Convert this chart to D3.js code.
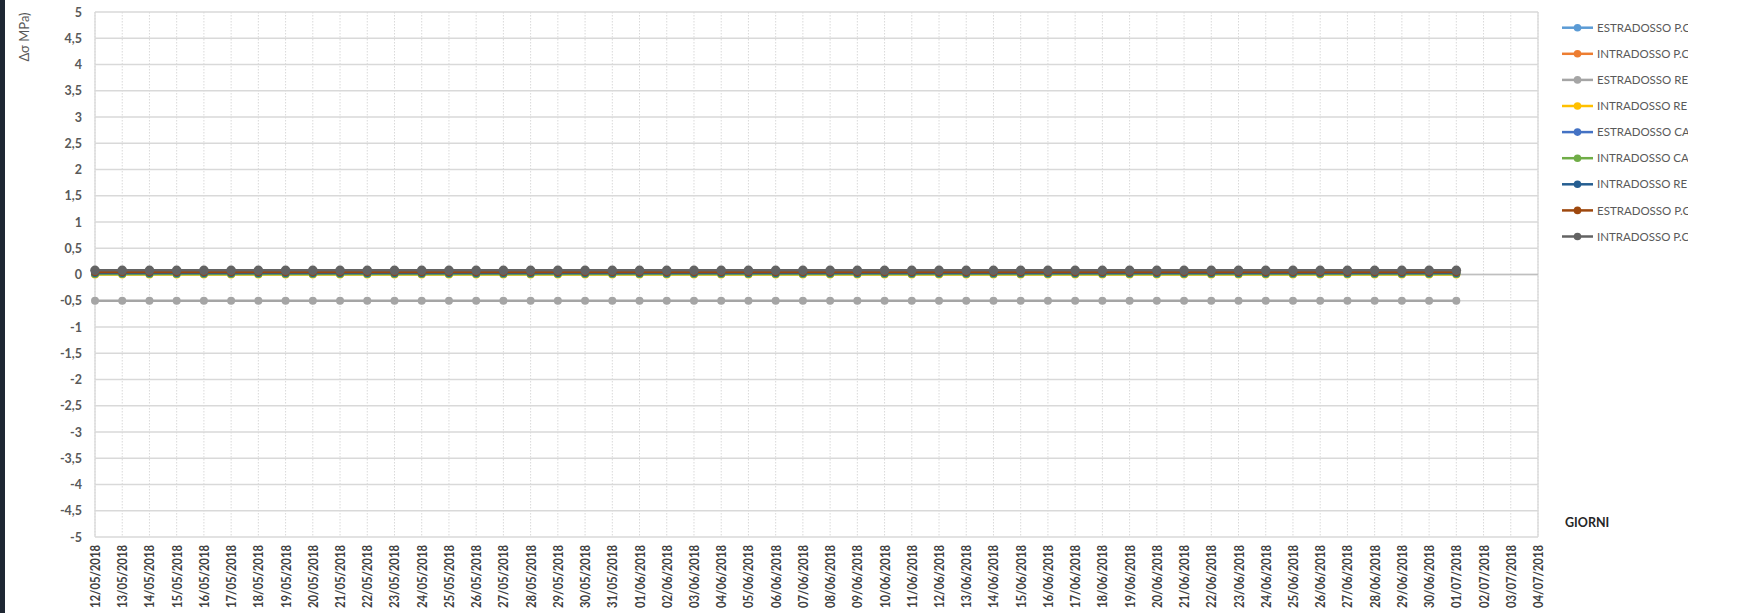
<!DOCTYPE html>
<html>
<head>
<meta charset="utf-8">
<script src="https://cdn.jsdelivr.net/npm/d3@7"></script>
<style>
  html, body { margin: 0; padding: 0; background: #ffffff; }
  svg { display: block; }
</style>
</head>
<body>
<script>
// Daily readings, 12/05/2018 – 04/07/2018
const categories = [
  "12/05/2018","13/05/2018","14/05/2018","15/05/2018","16/05/2018","17/05/2018","18/05/2018","19/05/2018","20/05/2018","21/05/2018",
  "22/05/2018","23/05/2018","24/05/2018","25/05/2018","26/05/2018","27/05/2018","28/05/2018","29/05/2018","30/05/2018","31/05/2018",
  "01/06/2018","02/06/2018","03/06/2018","04/06/2018","05/06/2018","06/06/2018","07/06/2018","08/06/2018","09/06/2018","10/06/2018",
  "11/06/2018","12/06/2018","13/06/2018","14/06/2018","15/06/2018","16/06/2018","17/06/2018","18/06/2018","19/06/2018","20/06/2018",
  "21/06/2018","22/06/2018","23/06/2018","24/06/2018","25/06/2018","26/06/2018","27/06/2018","28/06/2018","29/06/2018","30/06/2018",
  "01/07/2018","02/07/2018","03/07/2018","04/07/2018"
];

const yTicks = [5,4.5,4,3.5,3,2.5,2,1.5,1,0.5,0,-0.5,-1,-1.5,-2,-2.5,-3,-3.5,-4,-4.5,-5];

const seriesNames = [
  "ESTRADOSSO P.C", "INTRADOSSO P.C", "ESTRADOSSO RE", "INTRADOSSO RE", "ESTRADOSSO CA",
  "INTRADOSSO CA", "INTRADOSSO RE", "ESTRADOSSO P.C", "INTRADOSSO P.C"
];
const seriesColors = ["#5b9bd5","#ed7d31","#a5a5a5","#ffc000","#4472c4","#70ad47","#255e91","#9e480e","#636363"];

// Δσ values (MPa), one per day from 12/05 to 01/07
const estradossoPC1 = [
  0.03,0.03,0.03,0.03,0.03,0.03,0.03,0.03,0.03,0.03,
  0.03,0.03,0.03,0.03,0.03,0.03,0.03,0.03,0.03,0.03,
  0.03,0.03,0.03,0.03,0.03,0.03,0.03,0.03,0.03,0.03,
  0.03,0.03,0.03,0.03,0.03,0.03,0.03,0.03,0.03,0.03,
  0.03,0.03,0.03,0.03,0.03,0.03,0.03,0.03,0.03,0.03,0.03
];
const intradossoPC1 = [
  0.03,0.03,0.03,0.03,0.03,0.03,0.03,0.03,0.03,0.03,
  0.03,0.03,0.03,0.03,0.03,0.03,0.03,0.03,0.03,0.03,
  0.03,0.03,0.03,0.03,0.03,0.03,0.03,0.03,0.03,0.03,
  0.03,0.03,0.03,0.03,0.03,0.03,0.03,0.03,0.03,0.03,
  0.03,0.03,0.03,0.03,0.03,0.03,0.03,0.03,0.03,0.03,0.03
];
const estradossoRE = [
  -0.5,-0.5,-0.5,-0.5,-0.5,-0.5,-0.5,-0.5,-0.5,-0.5,
  -0.5,-0.5,-0.5,-0.5,-0.5,-0.5,-0.5,-0.5,-0.5,-0.5,
  -0.5,-0.5,-0.5,-0.5,-0.5,-0.5,-0.5,-0.5,-0.5,-0.5,
  -0.5,-0.5,-0.5,-0.5,-0.5,-0.5,-0.5,-0.5,-0.5,-0.5,
  -0.5,-0.5,-0.5,-0.5,-0.5,-0.5,-0.5,-0.5,-0.5,-0.5,-0.5
];
const intradossoRE1 = [
  0.0,0.0,0.0,0.0,0.0,0.0,0.0,0.0,0.0,0.0,
  0.0,0.0,0.0,0.0,0.0,0.0,0.0,0.0,0.0,0.0,
  0.0,0.0,0.0,0.0,0.0,0.0,0.0,0.0,0.0,0.0,
  0.0,0.0,0.0,0.0,0.0,0.0,0.0,0.0,0.0,0.0,
  0.0,0.0,0.0,0.0,0.0,0.0,0.0,0.0,0.0,0.0,0.0
];
const estradossoCA = [
  0.02,0.02,0.02,0.02,0.02,0.02,0.02,0.02,0.02,0.02,
  0.02,0.02,0.02,0.02,0.02,0.02,0.02,0.02,0.02,0.02,
  0.02,0.02,0.02,0.02,0.02,0.02,0.02,0.02,0.02,0.02,
  0.02,0.02,0.02,0.02,0.02,0.02,0.02,0.02,0.02,0.02,
  0.02,0.02,0.02,0.02,0.02,0.02,0.02,0.02,0.02,0.02,0.02
];
const intradossoCA = [
  0.01,0.01,0.01,0.01,0.01,0.01,0.01,0.01,0.01,0.01,
  0.01,0.01,0.01,0.01,0.01,0.01,0.01,0.01,0.01,0.01,
  0.01,0.01,0.01,0.01,0.01,0.01,0.01,0.01,0.01,0.01,
  0.01,0.01,0.01,0.01,0.01,0.01,0.01,0.01,0.01,0.01,
  0.01,0.01,0.01,0.01,0.01,0.01,0.01,0.01,0.01,0.01,0.01
];
const intradossoRE2 = [
  0.03,0.03,0.03,0.03,0.03,0.03,0.03,0.03,0.03,0.03,
  0.03,0.03,0.03,0.03,0.03,0.03,0.03,0.03,0.03,0.03,
  0.03,0.03,0.03,0.03,0.03,0.03,0.03,0.03,0.03,0.03,
  0.03,0.03,0.03,0.03,0.03,0.03,0.03,0.03,0.03,0.03,
  0.03,0.03,0.03,0.03,0.03,0.03,0.03,0.03,0.03,0.03,0.03
];
const estradossoPC2 = [
  0.05,0.05,0.05,0.05,0.05,0.05,0.05,0.05,0.05,0.05,
  0.05,0.05,0.05,0.05,0.05,0.05,0.05,0.05,0.05,0.05,
  0.05,0.05,0.05,0.05,0.05,0.05,0.05,0.05,0.05,0.05,
  0.05,0.05,0.05,0.05,0.05,0.05,0.05,0.05,0.05,0.05,
  0.05,0.05,0.05,0.05,0.05,0.05,0.05,0.05,0.05,0.05,0.05
];
const intradossoPC2 = [
  0.08,0.08,0.08,0.08,0.08,0.08,0.08,0.08,0.08,0.08,
  0.08,0.08,0.08,0.08,0.08,0.08,0.08,0.08,0.08,0.08,
  0.08,0.08,0.08,0.08,0.08,0.08,0.08,0.08,0.08,0.08,
  0.08,0.08,0.08,0.08,0.08,0.08,0.08,0.08,0.08,0.08,
  0.08,0.08,0.08,0.08,0.08,0.08,0.08,0.08,0.08,0.08,0.08
];

const seriesValues = [
  estradossoPC1, intradossoPC1, estradossoRE, intradossoRE1, estradossoCA,
  intradossoCA, intradossoRE2, estradossoPC2, intradossoPC2
];

const W = 1739, H = 613;
const plot = { left: 95, right: 1538, top: 12, bottom: 537 };

const svg = d3.select("body").append("svg")
  .attr("width", W).attr("height", H)
  .style("font-family", "Lato, 'Open Sans', sans-serif");

svg.append("rect").attr("width", W).attr("height", H).attr("fill", "#ffffff");
// dark frame strip on the left edge
svg.append("rect").attr("x", 0).attr("y", 0).attr("width", 5).attr("height", H).attr("fill", "#1e2733");

const x = d3.scalePoint().domain(categories).range([plot.left, plot.right]).padding(0);
const y = d3.scaleLinear().domain([-5, 5]).range([plot.bottom, plot.top]);

// vertical dotted gridlines at each day
svg.append("g").selectAll("line").data(categories).join("line")
  .attr("x1", d => x(d)).attr("x2", d => x(d))
  .attr("y1", plot.top).attr("y2", plot.bottom)
  .attr("stroke", "#d9d9d9").attr("stroke-width", 1)
  .attr("stroke-dasharray", "1.5,1.5");

// horizontal gridlines
svg.append("g").selectAll("line").data(yTicks).join("line")
  .attr("x1", plot.left).attr("x2", plot.right)
  .attr("y1", d => y(d)).attr("y2", d => y(d))
  .attr("stroke", "#d9d9d9").attr("stroke-width", 1.3);

// plot-area side borders
[plot.left, plot.right].forEach(px => {
  svg.append("line").attr("x1", px).attr("x2", px)
    .attr("y1", plot.top).attr("y2", plot.bottom)
    .attr("stroke", "#d9d9d9").attr("stroke-width", 1.3);
});

// category axis crossing at zero
svg.append("line")
  .attr("x1", plot.left).attr("x2", plot.right)
  .attr("y1", y(0)).attr("y2", y(0))
  .attr("stroke", "#bfbfbf").attr("stroke-width", 1.3);

// y axis labels
const yAxis = d3.axisLeft(y).tickValues(yTicks)
  .tickFormat(d => String(d).replace(".", ","))
  .tickSize(0).tickPadding(13);
const gy = svg.append("g").attr("transform", `translate(${plot.left},0)`).call(yAxis);
gy.select(".domain").remove();
gy.selectAll("text")
  .attr("fill", "#595959").attr("font-size", 12.5).attr("font-weight", "bold")
  .style("font-family", "Lato, sans-serif");

// x axis labels, rotated
const xAxis = d3.axisBottom(x).tickSize(0).tickPadding(0);
const gx = svg.append("g").attr("transform", `translate(0,${plot.bottom})`).call(xAxis);
gx.select(".domain").remove();
gx.selectAll("text")
  .attr("fill", "#404040").attr("font-size", 12.5).attr("font-weight", "bold")
  .style("font-family", "Lato, sans-serif")
  .attr("text-anchor", "end")
  .attr("dy", "0.36em")
  .attr("textLength", 63)
  .attr("lengthAdjust", "spacingAndGlyphs")
  .attr("transform", "translate(0,8) rotate(-90)")
  .attr("x", 0).attr("y", 0);

// axis titles
svg.append("text")
  .attr("transform", `translate(29,37) rotate(-90)`)
  .attr("text-anchor", "middle")
  .attr("fill", "#595959").attr("font-size", 13)
  .text("Δσ MPa)");

svg.append("text")
  .attr("x", 1565).attr("y", 527)
  .attr("fill", "#262626").attr("font-size", 12.5).attr("font-weight", "bold")
  .text("GIORNI");

// series lines and markers
const line = d3.line().x((d, i) => x(categories[i])).y(d => y(d));
const seriesG = svg.append("g");
seriesValues.forEach((vals, s) => {
  const g = seriesG.append("g");
  g.append("path").datum(vals)
    .attr("d", line)
    .attr("fill", "none")
    .attr("stroke", seriesColors[s])
    .attr("stroke-width", 2.5)
    .attr("stroke-linejoin", "round");
  g.selectAll("circle").data(vals).join("circle")
    .attr("cx", (d, i) => x(categories[i]))
    .attr("cy", d => y(d))
    .attr("r", s === 8 ? 4.8 : 4)
    .attr("fill", seriesColors[s]);
});

// legend, clipped on the right like the original box
svg.append("defs").append("clipPath").attr("id", "legendClip")
  .append("rect").attr("x", 1550).attr("y", 0).attr("width", 138).attr("height", 260);

const legend = svg.append("g").attr("clip-path", "url(#legendClip)");
seriesNames.forEach((name, i) => {
  const ly = 27.7 + i * 26.1;
  legend.append("line")
    .attr("x1", 1562).attr("x2", 1593).attr("y1", ly).attr("y2", ly)
    .attr("stroke", seriesColors[i]).attr("stroke-width", 2.5);
  legend.append("circle")
    .attr("cx", 1577.5).attr("cy", ly).attr("r", 3.8)
    .attr("fill", seriesColors[i]);
  legend.append("text")
    .attr("x", 1597).attr("y", ly).attr("dy", "0.36em")
    .attr("fill", "#595959").attr("font-size", 11.5)
    .text(name);
});
</script>
</body>
</html>
